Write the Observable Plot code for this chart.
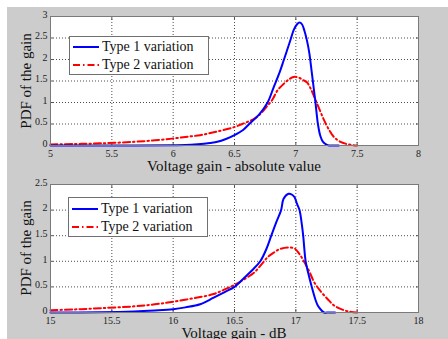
<!DOCTYPE html>
<html><head><meta charset="utf-8">
<script src="https://cdn.jsdelivr.net/npm/d3@7"></script>
<script src="https://cdn.jsdelivr.net/npm/@observablehq/plot@0.6"></script>
</head><body style="margin:0;width:448px;height:339px;overflow:hidden;background:#fff;position:relative;font-family:'Liberation Serif',serif">
<div style="position:absolute;left:7px;top:7px;width:441px;height:332px;background:#cccccc"></div>
<div id="top" style="position:absolute;left:0;top:0"></div>
<div id="bot" style="position:absolute;left:0;top:170px"></div>
<div id="xl0" style="position:absolute;white-space:nowrap;font-family:'Liberation Serif',serif;font-size:15px;line-height:1;color:#111;left:234px;top:166px;transform:translate(-50%,-50%)">Voltage gain - absolute value</div>
<div id="xl1" style="position:absolute;white-space:nowrap;font-family:'Liberation Serif',serif;font-size:15px;line-height:1;color:#111;left:234px;top:333px;transform:translate(-50%,-50%)">Voltage gain - dB</div>
<div id="yl0" style="position:absolute;white-space:nowrap;font-family:'Liberation Serif',serif;font-size:15px;line-height:1;color:#111;left:26px;top:81px;transform:translate(-50%,-50%) rotate(-90deg)">PDF of the gain</div>
<div id="yl1" style="position:absolute;white-space:nowrap;font-family:'Liberation Serif',serif;font-size:15px;line-height:1;color:#111;left:26px;top:248px;transform:translate(-50%,-50%) rotate(-90deg)">PDF of the gain</div>
<div id="leg0" style="position:absolute;left:69px;top:36px;width:140px;height:39px;background:#fff;border:1px solid #707070;box-sizing:border-box;font-family:'Liberation Serif',serif;font-size:14px;line-height:1;color:#111">
  <div style="position:absolute;left:3px;top:10px;display:flex;align-items:center;white-space:nowrap;transform:translateY(-50%)"><svg class="sw0" width="26" height="6" style="margin-right:3px"></svg><span class="n0">Type 1 variation</span></div>
  <div style="position:absolute;left:3px;top:28px;display:flex;align-items:center;white-space:nowrap;transform:translateY(-50%)"><svg class="sw1" width="26" height="6" style="margin-right:3px"></svg><span class="n1">Type 2 variation</span></div>
</div>
<div id="leg1" style="position:absolute;left:68px;top:197px;width:140px;height:40px;background:#fff;border:1px solid #707070;box-sizing:border-box;font-family:'Liberation Serif',serif;font-size:14px;line-height:1;color:#111">
  <div style="position:absolute;left:3px;top:11px;display:flex;align-items:center;white-space:nowrap;transform:translateY(-50%)"><svg class="sw0" width="26" height="6" style="margin-right:3px"></svg><span class="n0">Type 1 variation</span></div>
  <div style="position:absolute;left:3px;top:29px;display:flex;align-items:center;white-space:nowrap;transform:translateY(-50%)"><svg class="sw1" width="26" height="6" style="margin-right:3px"></svg><span class="n1">Type 2 variation</span></div>
</div>
<script>
// Top panel: absolute value
const absX1 = [5.0,5.5,6.0,6.1,6.2,6.3,6.36,6.43,6.5,6.57,6.62,6.7,6.77,6.82,6.87,6.9,6.95,6.985,7.01,7.03,7.05,7.07,7.09,7.11,7.13,7.16,7.18,7.2,7.22,7.25,7.27,7.3,7.35];
const absY1 = [0.0,0.0,0.005,0.01,0.03,0.06,0.085,0.15,0.24,0.36,0.5,0.72,1.0,1.36,1.72,1.97,2.4,2.7,2.82,2.86,2.82,2.67,2.45,2.15,1.7,1.0,0.5,0.22,0.09,0.02,0.0,0.0,0.0];
const absX2 = [5.0,5.2,5.41,5.68,5.85,5.99,6.1,6.22,6.35,6.5,6.58,6.66,6.72,6.77,6.81,6.85,6.9,6.95,6.99,7.03,7.06,7.09,7.12,7.15,7.19,7.23,7.27,7.31,7.36,7.42,7.46,7.5];
const absY2 = [0.025,0.035,0.05,0.085,0.12,0.16,0.2,0.24,0.32,0.43,0.52,0.62,0.76,0.93,1.07,1.28,1.43,1.55,1.6,1.57,1.52,1.47,1.33,1.13,0.86,0.59,0.37,0.2,0.09,0.03,0.01,0.0];
// Bottom panel: dB
const dbX1 = [15.0,15.4,15.68,15.85,16.0,16.1,16.22,16.33,16.42,16.5,16.58,16.65,16.71,16.76,16.8,16.84,16.88,16.9,16.94,16.97,16.99,17.01,17.03,17.05,17.06,17.08,17.1,17.13,17.16,17.18,17.21,17.23,17.27,17.32];
const dbY1 = [0.0,0.005,0.02,0.04,0.065,0.1,0.16,0.29,0.4,0.5,0.68,0.84,1.0,1.24,1.5,1.76,2.0,2.22,2.32,2.3,2.25,2.12,2.0,1.7,1.5,1.0,0.78,0.5,0.25,0.13,0.04,0.0,0.0,0.0];
const dbX2 = [15.0,15.2,15.41,15.68,15.85,16.0,16.17,16.33,16.42,16.5,16.58,16.66,16.72,16.77,16.82,16.87,16.94,16.99,17.03,17.07,17.11,17.15,17.2,17.26,17.31,17.37,17.43,17.5];
const dbY2 = [0.045,0.06,0.085,0.12,0.16,0.21,0.28,0.36,0.45,0.54,0.65,0.78,0.94,1.08,1.17,1.24,1.27,1.25,1.14,0.98,0.8,0.59,0.42,0.26,0.14,0.065,0.02,0.0];
const seriesNames = ["Type 1 variation","Type 2 variation"];
const colors = ["#0000ff","#ff0000"];
const dashes = [null,"7,3,1.5,3"];
const topXTicks = [5,5.5,6,6.5,7,7.5,8];
const topYTicks = [0,0.5,1,1.5,2,2.5,3];
const botXTicks = [15,15.5,16,16.5,17,17.5,18];
const botYTicks = [0,0.5,1,1.5,2,2.5];
const xLabels = ["Voltage gain - absolute value","Voltage gain - dB"];
const yLabel = "PDF of the gain";

const FONT = "'Liberation Serif', serif";
function rows(xs, ys){ return xs.map((x,i)=>({x, y: ys[i]})); }

function panel(xs1, ys1, xs2, ys2, xTicks, yTicks, height, mt, mb){
  const xd = [xTicks[0], xTicks[xTicks.length-1]];
  const yd = [yTicks[0], yTicks[yTicks.length-1]];
  const fmt = d => String(d);
  const svg = Plot.plot({
    width: 448, height,
    marginLeft: 50, marginRight: 30, marginTop: mt, marginBottom: mb,
    style: "font-family: 'Liberation Serif', serif; font-size: 10px; background: transparent; color: #222;",
    x: {domain: xd, ticks: xTicks},
    y: {domain: yd, ticks: yTicks},
    marks: [
      Plot.frame({fill: "white"}),
      Plot.gridX(xTicks.slice(1,-1), {stroke: "#000", strokeOpacity: 0.7, strokeDasharray: "1,2"}),
      Plot.gridY(yTicks.slice(1,-1), {stroke: "#000", strokeOpacity: 0.7, strokeDasharray: "1,2"}),
      Plot.axisX(xTicks, {anchor: "bottom", tickSize: -3, text: null, label: null, stroke: "#555"}),
      Plot.axisX(xTicks, {anchor: "top", tickSize: -3, text: null, label: null, stroke: "#555"}),
      Plot.axisY(yTicks, {anchor: "left", tickSize: -3, text: null, label: null, stroke: "#555"}),
      Plot.axisY(yTicks, {anchor: "right", tickSize: -3, text: null, label: null, stroke: "#555"}),
      Plot.axisX(xTicks, {tickSize: 0, tickPadding: 4, tickFormat: fmt, label: null, fontFamily: FONT, fontSize: 10}),
      Plot.axisY(yTicks, {tickSize: 0, tickPadding: 3, tickFormat: fmt, label: null, dy: -2, fontFamily: FONT, fontSize: 10}),
      Plot.line(rows(xs2, ys2), {x: "x", y: "y", stroke: colors[1], strokeWidth: 2, strokeDasharray: dashes[1], curve: "catmull-rom"}),
      Plot.line(rows(xs1, ys1), {x: "x", y: "y", stroke: colors[0], strokeWidth: 2, curve: "catmull-rom"}),
      Plot.frame({stroke: "#7a7a7a", strokeWidth: 1})
    ]
  });
  svg.setAttribute("font-family", FONT);
  return svg;
}

function render(){
  document.getElementById("top").replaceChildren(panel(absX1, absY1, absX2, absY2, topXTicks, topYTicks, 170, 16, 25));
  document.getElementById("bot").replaceChildren(panel(dbX1, dbY1, dbX2, dbY2, botXTicks, botYTicks, 169, 14, 27));
  document.getElementById("xl0").textContent = xLabels[0];
  document.getElementById("xl1").textContent = xLabels[1];
  document.getElementById("yl0").textContent = yLabel;
  document.getElementById("yl1").textContent = yLabel;
  document.querySelectorAll(".n0").forEach(e => e.textContent = seriesNames[0]);
  document.querySelectorAll(".n1").forEach(e => e.textContent = seriesNames[1]);
  [0,1].forEach(i => document.querySelectorAll(".sw" + i).forEach(s => {
    s.innerHTML = `<line x1="0" x2="26" y1="3" y2="3" stroke="${colors[i]}" stroke-width="2" ${dashes[i] ? `stroke-dasharray="${dashes[i]}"` : ""}/>`;
  }));
}
render();
if (document.fonts && document.fonts.load) {
  Promise.all([
    document.fonts.load("10px 'Liberation Serif'"),
    document.fonts.load("15px 'Liberation Serif'")
  ]).then(render).catch(() => {});
}
</script>
</body></html>
